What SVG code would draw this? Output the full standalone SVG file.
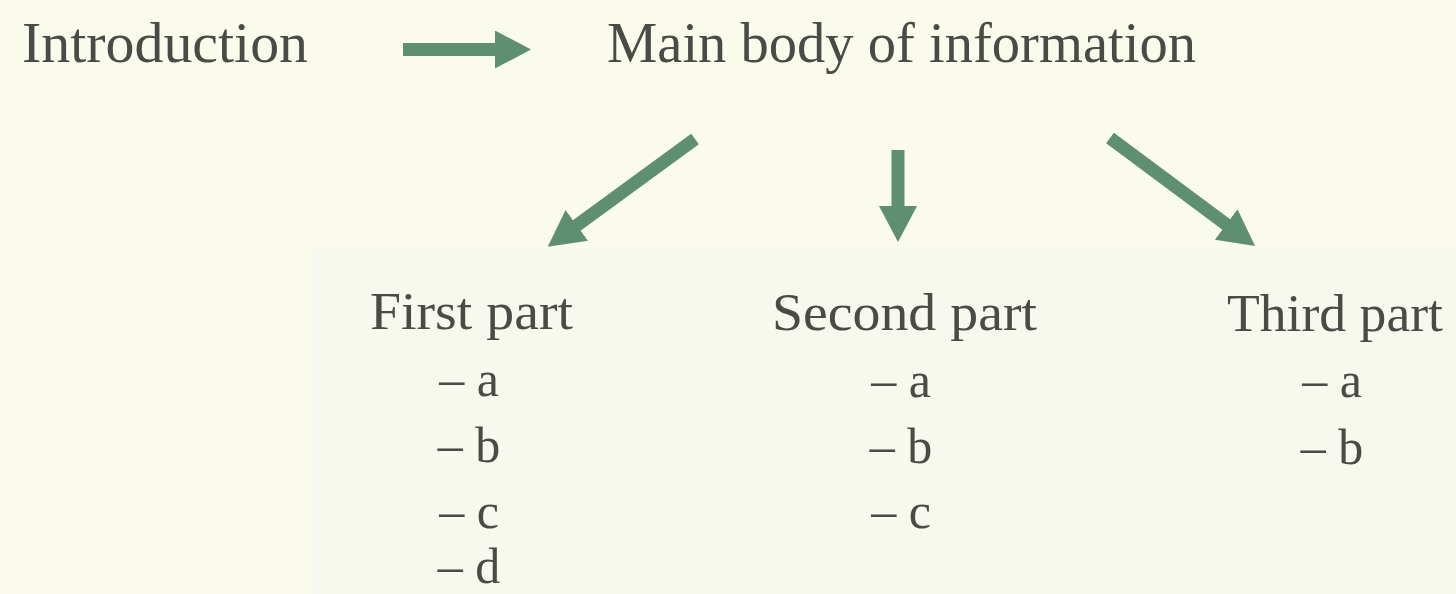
<svg xmlns="http://www.w3.org/2000/svg" width="1456" height="594" viewBox="0 0 1456 594">
  <style>
    .t { font-family: "Liberation Serif", "Times New Roman", serif; fill: #4a4a46; }
    .h { font-size: 56px; }
    .p { font-size: 53px; }
    .i { font-size: 50px; text-anchor: middle; }
    .arrow { stroke: #5e8f6f; stroke-width: 13; fill: none; marker-end: url(#head); }
  </style>
  <defs>
    <marker id="head" markerUnits="userSpaceOnUse" viewBox="0 0 36 38" refX="1" refY="19" markerWidth="36" markerHeight="38" orient="auto">
      <path d="M0,0 L36,19 L0,38 Z" fill="#5e8f6f"/>
    </marker>
  </defs>
  <rect x="0" y="0" width="1456" height="594" fill="#fbfbeb"/>
  <rect x="312" y="250" width="1144" height="344" fill="#f8f9ee"/>

  <g id="connectors">
    <line class="arrow" x1="403" y1="49.5" x2="496" y2="49.5"/>
    <line class="arrow" x1="695" y1="139" x2="576" y2="226"/>
    <line class="arrow" x1="898" y1="150" x2="898" y2="207"/>
    <line class="arrow" x1="1110" y1="138" x2="1227" y2="225"/>
  </g>

  <g id="introduction">
    <text class="t h" x="22" y="62" textLength="286" lengthAdjust="spacingAndGlyphs">Introduction</text>
  </g>
  <g id="main-body">
    <text class="t h" x="607" y="62" textLength="589" lengthAdjust="spacingAndGlyphs">Main body of information</text>
  </g>
  <g id="first-part">
    <text class="t p" x="370" y="329" textLength="203" lengthAdjust="spacingAndGlyphs">First part</text>
    <text class="t i" x="469" y="396">– a</text>
    <text class="t i" x="469" y="462">– b</text>
    <text class="t i" x="469" y="528">– c</text>
    <text class="t i" x="469" y="583">– d</text>
  </g>
  <g id="second-part">
    <text class="t p" x="772" y="330" textLength="265" lengthAdjust="spacingAndGlyphs">Second part</text>
    <text class="t i" x="901" y="397">– a</text>
    <text class="t i" x="901" y="463">– b</text>
    <text class="t i" x="901" y="528">– c</text>
  </g>
  <g id="third-part">
    <text class="t p" x="1227" y="331" textLength="216" lengthAdjust="spacingAndGlyphs">Third part</text>
    <text class="t i" x="1332" y="397">– a</text>
    <text class="t i" x="1332" y="464">– b</text>
  </g>
</svg>
